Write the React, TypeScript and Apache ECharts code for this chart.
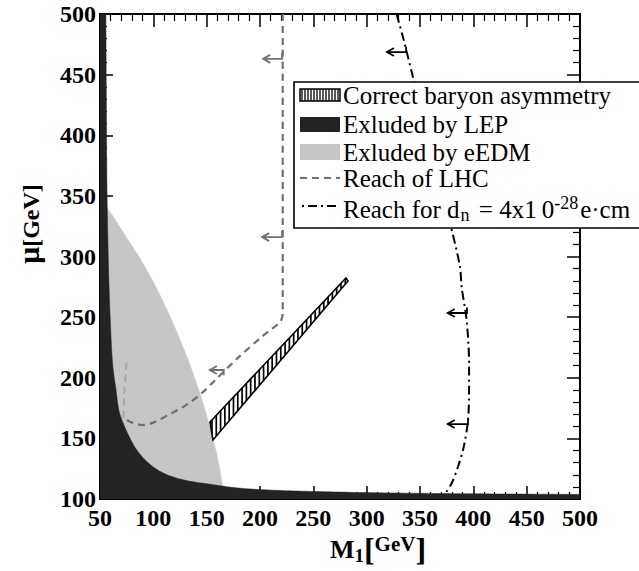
import React, { useEffect, useRef } from "react";
import * as echarts from "echarts";

// ---- data (M1 [GeV], mu [GeV]) ----
const axisMin = 50;
const axisMaxX = 500;
const axisMinY = 100;
const axisMaxY = 500;
const tickStep = 50;

// Excluded by LEP (black region): its upper/right boundary
const lepEdgeM1 = [55.5, 56, 56.5, 57.5, 59.4, 62, 65, 68, 72, 76, 84, 95, 108, 127, 158, 180, 220, 260, 320, 400, 500];
const lepEdgeMu = [500, 420, 360, 308, 253, 210, 190, 172, 162, 154, 141, 130, 122, 116, 111.6, 109, 107, 106, 105, 104.3, 103.8];

// Excluded by eEDM (grey region): its right boundary
const edmEdgeM1 = [50, 52.8, 59.4, 73.4, 89.4, 106.2, 121.2, 134.4, 145.6, 155.0, 161.6, 165.3, 166];
const edmEdgeMu = [345, 344.1, 336.7, 317.7, 295.5, 268.2, 239.4, 210.5, 181.7, 152.8, 128.0, 107.4, 104];

// Correct baryon asymmetry (hatched band)
const bandUpperM1 = [153.1, 280.6];
const bandUpperMu = [163.5, 282.3];
const bandLowerM1 = [155.9, 282.5];
const bandLowerMu = [148.7, 279.8];

// Reach of LHC (dashed)
const lhcM1 = [221.3, 221.3, 219, 212, 202, 180, 158, 145, 130, 117.5, 100, 90, 80, 72];
const lhcMu = [500, 253, 246, 241, 234, 217, 198, 187, 177, 171, 163, 161, 163, 167];
// faint continuation inside the eEDM region
const lhcFaintM1 = [72, 73, 75];
const lhcFaintMu = [167, 190, 215];

// Reach for d_n (dash-dot)
const dnM1 = [328, 334, 343.4, 379.7, 387.5, 389, 393.7, 396, 396, 395, 391, 385.6, 379.7, 374];
const dnMu = [500, 481, 448, 322, 291.4, 275, 247.6, 212, 190, 165, 143, 126.6, 113, 105];

// arrows: tail (on curve) -> head, with a small tick at the tail
const lhcArrowTailM1 = [220.6, 220.6, 166];
const lhcArrowHeadM1 = [203, 202, 153];
const lhcArrowMu = [463, 316, 206.4];
const lhcArrowTickMu = [468, 321, 202];

const dnArrowTailM1 = [337, 394, 395];
const dnArrowHeadM1 = [319, 376, 376];
const dnArrowMu = [468.6, 253.4, 161.8];
const dnArrowTickMu = [473, 258, 166];

const legendLabels = [
  "Correct baryon asymmetry",
  "Exluded by LEP",
  "Exluded by eEDM",
  "Reach of LHC",
];

const SERIF = "'Liberation Serif', 'DejaVu Serif', serif";
const LEP_COLOR = "#232323";
const EDM_COLOR = "#c6c6c6";
const LHC_COLOR = "#707070";

// centripetal Catmull-Rom through pixel points
function smoothPath(pts: number[][], seg = 10): number[][] {
  const n = pts.length;
  if (n < 3) return pts.slice();
  const ext = (a: number[], b: number[]) => [2 * a[0] - b[0], 2 * a[1] - b[1]];
  const P = [ext(pts[0], pts[1]), ...pts, ext(pts[n - 1], pts[n - 2])];
  const out: number[][] = [];
  const d = (a: number[], b: number[]) => Math.max(Math.sqrt(Math.hypot(b[0] - a[0], b[1] - a[1])), 1e-4);
  const lerp = (a: number[], b: number[], ta: number, tb: number, t: number) => {
    const w = (t - ta) / (tb - ta);
    return [a[0] + (b[0] - a[0]) * w, a[1] + (b[1] - a[1]) * w];
  };
  for (let i = 1; i < P.length - 2; i++) {
    const p0 = P[i - 1], p1 = P[i], p2 = P[i + 1], p3 = P[i + 2];
    const t0 = 0;
    const t1 = t0 + d(p0, p1);
    const t2 = t1 + d(p1, p2);
    const t3 = t2 + d(p2, p3);
    for (let s = 0; s < seg; s++) {
      const t = t1 + ((t2 - t1) * s) / seg;
      const A1 = lerp(p0, p1, t0, t1, t);
      const A2 = lerp(p1, p2, t1, t2, t);
      const A3 = lerp(p2, p3, t2, t3, t);
      const B1 = lerp(A1, A2, t0, t2, t);
      const B2 = lerp(A2, A3, t1, t3, t);
      out.push(lerp(B1, B2, t1, t2, t));
    }
  }
  out.push(pts[n - 1]);
  return out;
}

function regionSeries(
  name: string,
  edgeX: number[],
  edgeY: number[],
  closeX: number[],
  closeY: number[],
  fill: string,
  z: number
) {
  return {
    type: "custom",
    name,
    z,
    clip: true,
    silent: true,
    xAxisIndex: 0,
    yAxisIndex: 0,
    data: [[edgeX[0], edgeY[0]]],
    renderItem: (_p: any, api: any) => {
      const edge = smoothPath(edgeX.map((x, i) => api.coord([x, edgeY[i]])));
      const close = closeX.map((x, i) => api.coord([x, closeY[i]]));
      return {
        type: "polygon",
        shape: { points: edge.concat(close) },
        style: { fill, stroke: fill, lineWidth: 0.5 },
      };
    },
  };
}

function arrowSeries(name: string, tails: number[], heads: number[], mus: number[], ticks: number[], color: string) {
  return {
    type: "custom",
    name,
    z: 6,
    silent: true,
    xAxisIndex: 0,
    yAxisIndex: 0,
    data: tails.map((t, i) => [t, mus[i], heads[i], ticks[i]]),
    renderItem: (_p: any, api: any) => {
      const tail = api.coord([api.value(0), api.value(1)]);
      const head = api.coord([api.value(2), api.value(1)]);
      const tick = api.coord([api.value(0), api.value(3)]);
      const dx = head[0] - tail[0];
      const dy = head[1] - tail[1];
      const len = Math.sqrt(dx * dx + dy * dy) || 1;
      const ux = dx / len;
      const uy = dy / len;
      const px = -uy;
      const py = ux;
      const style = { stroke: color, lineWidth: 1.8, fill: "none" };
      return {
        type: "group",
        children: [
          { type: "polyline", shape: { points: [tick, tail, head] }, style },
          {
            type: "polyline",
            shape: {
              points: [
                [head[0] - ux * 7 + px * 4, head[1] - uy * 7 + py * 4],
                head,
                [head[0] - ux * 7 - px * 4, head[1] - uy * 7 - py * 4],
              ],
            },
            style,
          },
        ],
      };
    },
  };
}

function bandSeries() {
  return {
    type: "custom",
    name: "Correct baryon asymmetry",
    z: 4,
    clip: true,
    silent: true,
    xAxisIndex: 0,
    yAxisIndex: 0,
    data: [[bandUpperM1[0], bandUpperMu[0]]],
    renderItem: (_p: any, api: any) => {
      const up = bandUpperM1.map((x, i) => api.coord([x, bandUpperMu[i]]));
      const lo = bandLowerM1.map((x, i) => api.coord([x, bandLowerMu[i]]));
      const poly = up.concat(lo.slice().reverse());
      const children: any[] = [
        { type: "polygon", shape: { points: poly }, style: { fill: "#fff", stroke: "#000", lineWidth: 1.6 } },
      ];
      const xs = poly.map((p: number[]) => p[0]);
      const minX = Math.min(...xs);
      const maxX = Math.max(...xs);
      for (let x = minX + 2; x < maxX - 1; x += 4.3) {
        const hits: number[] = [];
        for (let i = 0; i < poly.length; i++) {
          const a = poly[i];
          const b = poly[(i + 1) % poly.length];
          if ((a[0] <= x && b[0] >= x) || (b[0] <= x && a[0] >= x)) {
            if (b[0] === a[0]) continue;
            const t = (x - a[0]) / (b[0] - a[0]);
            hits.push(a[1] + t * (b[1] - a[1]));
          }
        }
        if (hits.length >= 2) {
          const y1 = Math.min(...hits);
          const y2 = Math.max(...hits);
          children.push({
            type: "line",
            shape: { x1: x, y1, x2: x, y2 },
            style: { stroke: "#000", lineWidth: 1.7 },
          });
        }
      }
      return { type: "group", children };
    },
  };
}

function buildLegend() {
  const els: any[] = [];
  const boxX = 294;
  const boxY = 82;
  els.push({
    type: "rect",
    shape: { x: boxX, y: boxY, width: 350, height: 146 },
    style: { fill: "#fff", stroke: "#000", lineWidth: 1.6 },
    z: 100,
  });
  const sx = 300;
  const sw = 40;
  els.push({
    type: "rect",
    shape: { x: sx, y: 89, width: sw, height: 12 },
    style: { fill: "#fff", stroke: "#000", lineWidth: 1.5 },
    z: 101,
  });
  for (let x = sx + 2; x < sx + sw; x += 3) {
    els.push({
      type: "line",
      shape: { x1: x, y1: 89, x2: x, y2: 101 },
      style: { stroke: "#000", lineWidth: 1.3 },
      z: 102,
    });
  }
  els.push({ type: "rect", shape: { x: sx, y: 117, width: sw, height: 15 }, style: { fill: LEP_COLOR }, z: 101 });
  els.push({ type: "rect", shape: { x: sx, y: 144, width: sw, height: 16 }, style: { fill: EDM_COLOR }, z: 101 });
  els.push({
    type: "line",
    shape: { x1: sx, y1: 178, x2: sx + sw, y2: 178 },
    style: { stroke: LHC_COLOR, lineWidth: 2, lineDash: [7, 5] },
    z: 101,
  });
  els.push({
    type: "line",
    shape: { x1: sx + 2, y1: 206, x2: sx + sw, y2: 206 },
    style: { stroke: "#000", lineWidth: 2, lineDash: [2, 4, 9, 4] },
    z: 101,
  });
  const rowsY = [95, 124, 152, 178];
  legendLabels.forEach((t, i) => {
    els.push({
      type: "text",
      x: 343,
      y: rowsY[i],
      z: 103,
      style: {
        text: t,
        fontFamily: SERIF,
        fontSize: 25,
        fill: "#000",
        align: "left",
        verticalAlign: "middle",
      },
    });
  });
  els.push({
    type: "text",
    x: 343,
    y: 209,
    z: 103,
    style: {
      text: "{a|Reach for d}{sub|n}{a| = 4x1}{z|0}{sup|-28}{a|e·cm}",
      fontFamily: SERIF,
      fill: "#000",
      align: "left",
      verticalAlign: "middle",
      rich: {
        a: { fontFamily: SERIF, fontSize: 25, lineHeight: 30, verticalAlign: "middle", fill: "#000" },
        z: { fontFamily: SERIF, fontSize: 25, lineHeight: 30, verticalAlign: "middle", fill: "#000", padding: [0, 0, 0, 5] },
        sub: { fontFamily: SERIF, fontSize: 18, lineHeight: 18, verticalAlign: "bottom", fill: "#000", padding: [0, 3, 0, 1] },
        sup: { fontFamily: SERIF, fontSize: 18, lineHeight: 18, verticalAlign: "top", fill: "#000", padding: [0, 2, 0, 0] },
      },
    },
  });
  return els;
}

function buildAxisNames() {
  return [
    {
      type: "text",
      x: 27,
      y: 224,
      rotation: Math.PI / 2,
      z: 50,
      style: {
        text: "{mu|μ}{g|[GeV]}",
        align: "center",
        verticalAlign: "middle",
        rich: {
          mu: { fontFamily: SERIF, fontWeight: "bold", fontSize: 30, lineHeight: 32, verticalAlign: "bottom", fill: "#000" },
          g: { fontFamily: SERIF, fontWeight: "bold", fontSize: 24, lineHeight: 28, verticalAlign: "bottom", fill: "#000" },
        },
      },
    },
    {
      type: "text",
      x: 378,
      y: 549,
      z: 50,
      style: {
        text: "{m|M}{s|1}{b|[}{g|GeV}{b|]}",
        align: "center",
        verticalAlign: "middle",
        rich: {
          m: { fontFamily: SERIF, fontWeight: "bold", fontSize: 26, lineHeight: 28, verticalAlign: "middle", fill: "#000" },
          s: { fontFamily: SERIF, fontWeight: "bold", fontSize: 19, lineHeight: 19, verticalAlign: "bottom", fill: "#000" },
          b: { fontFamily: SERIF, fontWeight: "bold", fontSize: 32, lineHeight: 32, verticalAlign: "middle", fill: "#000" },
          g: { fontFamily: SERIF, fontWeight: "bold", fontSize: 21, lineHeight: 27, verticalAlign: "top", fill: "#000" },
        },
      },
    },
  ];
}

function axisCommon(showLabels: boolean) {
  return {
    type: "value",
    splitLine: { show: false },
    axisLine: { show: true, onZero: false, lineStyle: { color: "#000", width: 2 } },
    axisTick: { show: true, inside: true, length: 13, lineStyle: { color: "#000", width: 1.5 } },
    minorTick: { show: true, splitNumber: 5, length: 7, lineStyle: { color: "#000", width: 1.2 } },
    axisLabel: {
      show: showLabels,
      color: "#000",
      fontFamily: SERIF,
      fontWeight: "bold",
      fontSize: 24,
    },
  };
}

export default function App() {
  const ref = useRef<HTMLDivElement>(null);
  useEffect(() => {
    if (!ref.current) return;
    const chart = echarts.init(ref.current, undefined, { renderer: "svg" });
    const xb: any = axisCommon(true);
    xb.axisLabel.margin = 7;
    const yl: any = axisCommon(true);
    yl.axisLabel.margin = 4;
    const lepEnd = lepEdgeM1.length - 1;
    const edmEnd = edmEdgeM1.length - 1;
    chart.setOption({
      animation: false,
      backgroundColor: "#fff",
      grid: { left: 100, top: 14, width: 480, height: 485, containLabel: false },
      xAxis: [
        { ...xb, position: "bottom", min: axisMin, max: axisMaxX, interval: tickStep },
        { ...axisCommon(false), position: "top", min: axisMin, max: axisMaxX, interval: tickStep },
      ],
      yAxis: [
        { ...yl, position: "left", min: axisMinY, max: axisMaxY, interval: tickStep },
        { ...axisCommon(false), position: "right", min: axisMinY, max: axisMaxY, interval: tickStep },
      ],
      series: [
        regionSeries(
          "Exluded by eEDM",
          edmEdgeM1,
          edmEdgeMu,
          [edmEdgeM1[edmEnd], axisMin],
          [axisMinY, axisMinY],
          EDM_COLOR,
          2
        ),
        regionSeries(
          "Exluded by LEP",
          lepEdgeM1,
          lepEdgeMu,
          [lepEdgeM1[lepEnd], axisMin, axisMin],
          [axisMinY, axisMinY, axisMaxY],
          LEP_COLOR,
          3
        ),
        bandSeries(),
        {
          type: "line",
          name: "Reach of LHC (inside eEDM)",
          z: 4,
          xAxisIndex: 0,
          yAxisIndex: 0,
          data: lhcFaintM1.map((x, i) => [x, lhcFaintMu[i]]),
          showSymbol: false,
          smooth: 0.3,
          silent: true,
          lineStyle: { color: "#a8a8a8", width: 2, type: [7, 5] },
        },
        {
          type: "line",
          name: "Reach of LHC",
          z: 5,
          xAxisIndex: 0,
          yAxisIndex: 0,
          data: lhcM1.map((x, i) => [x, lhcMu[i]]),
          showSymbol: false,
          smooth: 0.3,
          silent: true,
          lineStyle: { color: LHC_COLOR, width: 2.2, type: [7, 5] },
        },
        {
          type: "line",
          name: "Reach for d_n",
          z: 5,
          xAxisIndex: 0,
          yAxisIndex: 0,
          data: dnM1.map((x, i) => [x, dnMu[i]]),
          showSymbol: false,
          smooth: 0.3,
          silent: true,
          lineStyle: { color: "#000", width: 2, type: [9, 4, 2, 4] },
        },
        arrowSeries("LHC arrows", lhcArrowTailM1, lhcArrowHeadM1, lhcArrowMu, lhcArrowTickMu, LHC_COLOR),
        arrowSeries("dn arrows", dnArrowTailM1, dnArrowHeadM1, dnArrowMu, dnArrowTickMu, "#000"),
      ],
      graphic: { elements: [...buildLegend(), ...buildAxisNames()] },
    });
    return () => chart.dispose();
  }, []);
  return (
    <div
      ref={ref}
      style={{ position: "fixed", left: 0, top: 0, width: 639, height: 571, background: "#fff" }}
    />
  );
}
